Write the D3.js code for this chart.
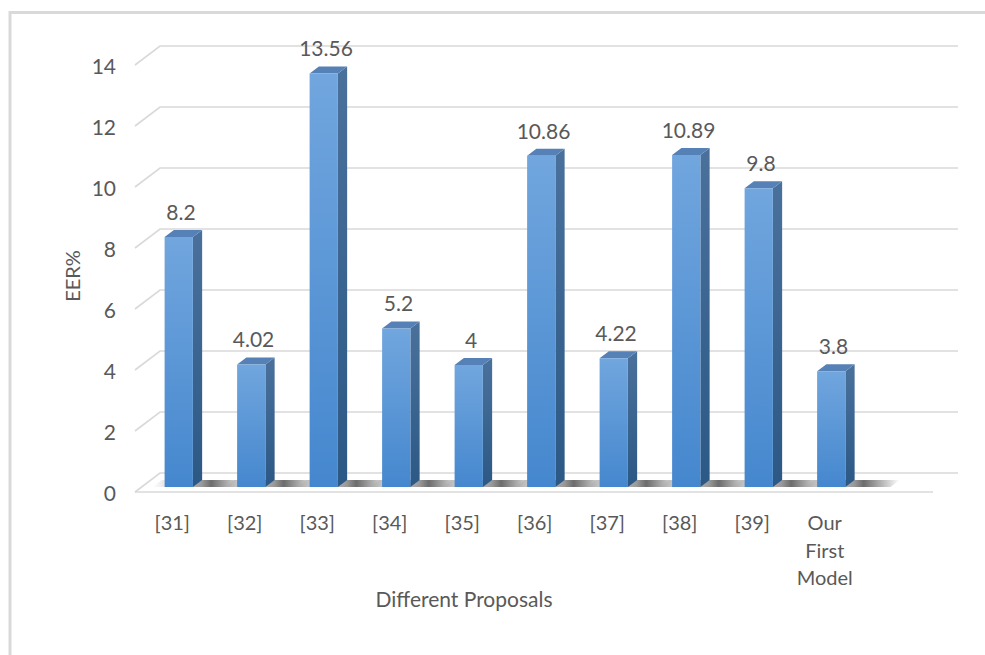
<!DOCTYPE html>
<html>
<head>
<meta charset="utf-8">
<script src="https://cdn.jsdelivr.net/npm/d3@7"></script>
<style>
  html, body { margin: 0; padding: 0; background: #fff; }
  svg { display: block; }
  text { font-family: Lato, "Open Sans", sans-serif; fill: #595959; }
</style>
</head>
<body>
<svg id="chart" width="985" height="655"></svg>
<script>
const categories = ["[31]", "[32]", "[33]", "[34]", "[35]", "[36]", "[37]", "[38]", "[39]", "Our First Model"];
const eerValues = [8.2, 4.02, 13.56, 5.2, 4, 10.86, 4.22, 10.89, 9.8, 3.8];
const yTicks = [0, 2, 4, 6, 8, 10, 12, 14];
const yAxisTitle = "EER%";
const xAxisTitle = "Different Proposals";

const svg = d3.select("#chart");

// oblique 3D projection: depth z in [0 (front), 1 (back)]
const DX = 25, DY = 19;
const x = d3.scaleBand().domain(categories).range([136, 861]).paddingInner(0.61).paddingOuter(0.305);
const y = d3.scaleLinear().domain([0, 14]).range([492, 65]);
const P = (px, v, z) => [px + DX * z, y(v) - DY * z];
const zFront = 0.26, zBack = 0.63;
const floorLeft = 135, floorRight = 933;

// border
svg.append("rect").attr("x", 10).attr("y", 12.5).attr("width", 1000).attr("height", 700)
  .attr("fill", "none").attr("stroke", "#d9d9d9").attr("stroke-width", 3);

const defs = svg.append("defs");
const gFront = defs.append("linearGradient").attr("id", "gFront").attr("x1", 0).attr("y1", 0).attr("x2", 0).attr("y2", 1);
gFront.append("stop").attr("offset", 0).attr("stop-color", "#71a6de");
gFront.append("stop").attr("offset", 1).attr("stop-color", "#4587ce");
const gSide = defs.append("linearGradient").attr("id", "gSide").attr("x1", 0).attr("y1", 0).attr("x2", 0).attr("y2", 1);
gSide.append("stop").attr("offset", 0).attr("stop-color", "#4a719c");
gSide.append("stop").attr("offset", 1).attr("stop-color", "#2c5885");
const gShadow = defs.append("linearGradient").attr("id", "gShadow").attr("x1", 0).attr("y1", 0).attr("x2", 1).attr("y2", 0);
[[0, 0], [0.22, 0.2], [0.52, 0.5], [0.62, 0.72], [1, 0]].forEach(([o, a]) =>
  gShadow.append("stop").attr("offset", o).attr("stop-color", "#333").attr("stop-opacity", a));

// gridlines: back plane + left wall diagonal
const grid = svg.append("g").attr("stroke", "#d9d9d9").attr("stroke-width", 1.6).attr("fill", "none");
yTicks.forEach(t => {
  const a = P(floorLeft, t, 0), b = P(floorLeft, t, 1), c = P(floorRight, t, 1);
  grid.append("polyline").attr("points", [a, b, c].map(p => p.join(",")).join(" "));
});
// floor front edge
grid.append("line").attr("x1", floorLeft).attr("x2", floorRight).attr("y1", y(0)).attr("y2", y(0));

// y tick labels
svg.append("g").selectAll("text").data(yTicks).join("text")
  .attr("x", 116).attr("y", d => y(d) + 4).attr("text-anchor", "end")
  .attr("dominant-baseline", "middle").attr("font-size", 21).text(d => d);

// shadows
const hw = x.bandwidth();
svg.append("g").selectAll("path").data(categories).join("path")
  .attr("d", c => {
    const l = x(c) - 12, r = x(c) + hw + 45;
    const pts = [P(l, 0, zFront), P(r, 0, zFront), P(r, 0, zBack), P(l, 0, zBack)];
    return "M" + pts.map(p => p.join(",")).join("L") + "Z";
  })
  .attr("fill", "url(#gShadow)");

// bars
const bars = svg.append("g").selectAll("g").data(categories.map((c, i) => ({ c, v: eerValues[i] }))).join("g");
bars.append("path").attr("fill", "url(#gSide)").attr("d", d => {
  const r = x(d.c) + hw;
  const pts = [P(r, 0, zFront), P(r, 0, zBack), P(r, d.v, zBack), P(r, d.v, zFront)];
  return "M" + pts.map(p => p.join(",")).join("L") + "Z";
});
bars.append("path").attr("fill", "#5681b6").attr("d", d => {
  const l = x(d.c), r = x(d.c) + hw;
  const pts = [P(l, d.v, zFront), P(r, d.v, zFront), P(r, d.v, zBack), P(l, d.v, zBack)];
  return "M" + pts.map(p => p.join(",")).join("L") + "Z";
});
bars.append("path").attr("fill", "url(#gFront)").attr("d", d => {
  const l = x(d.c), r = x(d.c) + hw;
  const pts = [P(l, 0, zFront), P(r, 0, zFront), P(r, d.v, zFront), P(l, d.v, zFront)];
  return "M" + pts.map(p => p.join(",")).join("L") + "Z";
});

// value labels
bars.append("text")
  .attr("x", d => P(x(d.c) + hw / 2, d.v, 0.35)[0])
  .attr("y", d => P(0, d.v, zBack)[1] - 10)
  .attr("text-anchor", "middle").attr("font-size", 21)
  .text(d => String(d.v));

// category labels
const catG = svg.append("g").selectAll("text").data(categories).join("text")
  .attr("x", c => x(c) + hw / 2).attr("y", 530)
  .attr("text-anchor", "middle").attr("font-size", 20);
catG.each(function(c) {
  const words = c.split(" ");
  const t = d3.select(this);
  if (words.length === 1) { t.text(c); return; }
  words.forEach((w, i) => t.append("tspan").attr("x", x(c) + hw / 2).attr("dy", i === 0 ? 0 : 27.5).text(w));
});

// axis titles
svg.append("text").attr("x", 464).attr("y", 607).attr("text-anchor", "middle").attr("font-size", 21).text(xAxisTitle);
svg.append("text").attr("transform", "translate(80,276) rotate(-90)").attr("text-anchor", "middle")
  .attr("font-size", 20).text(yAxisTitle);
</script>
</body>
</html>
